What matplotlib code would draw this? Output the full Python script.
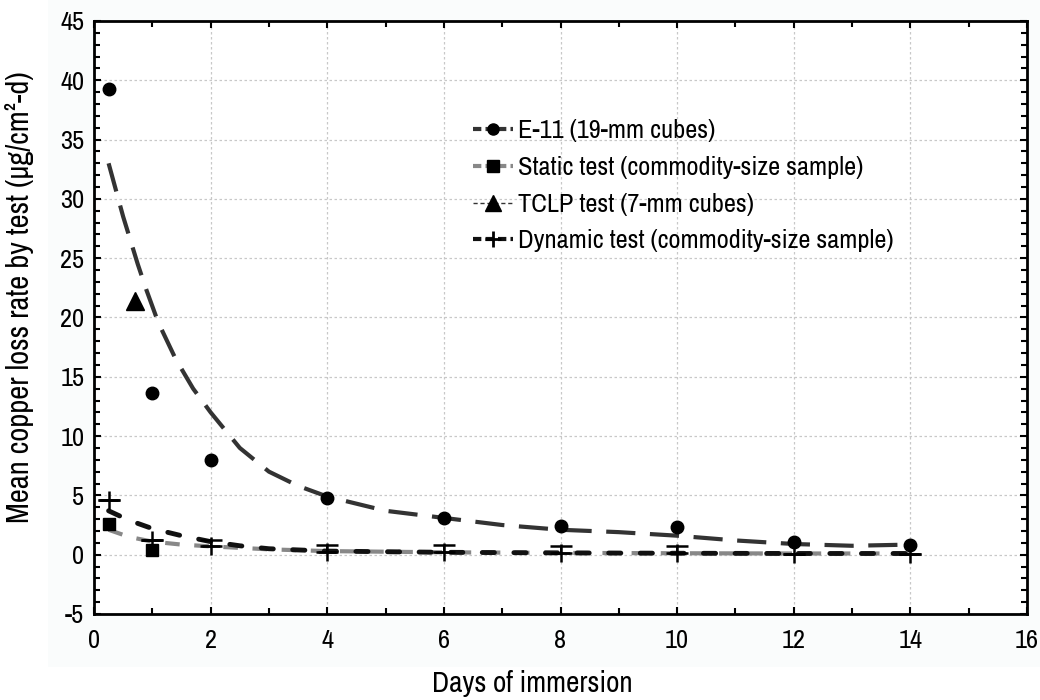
import numpy as np
import matplotlib.pyplot as plt
from matplotlib.ticker import MultipleLocator

plt.rcParams['font.family'] = ['Archivo Narrow', 'DejaVu Sans']
plt.rcParams['axes.unicode_minus'] = False

# measured mean loss rates
e11_days = [0.25, 1, 2, 4, 6, 8, 10, 12, 14]
e11_rate = [39.3, 13.6, 8.0, 4.8, 3.1, 2.4, 2.3, 1.1, 0.8]

static_days = [0.25, 1]
static_rate = [2.6, 0.4]

tclp_days = [0.7]
tclp_rate = [21.4]

dyn_days = [0.25, 1, 2, 4, 6, 8, 10, 12, 14]
dyn_rate = [4.6, 1.2, 0.7, 0.25, 0.25, 0.15, 0.15, 0.05, 0.05]
dyn_err = [0.0, 0.0, 0.5, 0.6, 0.6, 0.6, 0.6, 0.0, 0.0]

# smoothed fits
e11_fit_x = [0.25, 0.5, 0.75, 0.9, 1.1, 1.4, 1.7, 2.0, 2.5, 3.0, 3.5, 4.0, 5.0, 6.0, 7.0, 8.0, 9.0, 10.0, 11.0, 12.0, 13.0, 14.0]
e11_fit_y = [33.0, 28.5, 24.5, 22.3, 19.6, 16.5, 14.0, 12.0, 9.0, 7.0, 5.8, 4.9, 3.7, 3.1, 2.5, 2.1, 1.9, 1.6, 1.2, 0.9, 0.75, 0.85]

static_fit_x = [0.25, 0.6, 1.0, 1.5, 2.0, 3.0, 4.0, 6.0, 8.0, 10.0, 12.0, 14.0]
static_fit_y = [2.1, 1.5, 1.1, 0.85, 0.7, 0.45, 0.3, 0.2, 0.15, 0.12, 0.1, 0.1]

dyn_fit_x = [0.25, 0.6, 1.0, 1.5, 2.0, 2.5, 3.0, 4.0, 6.0, 8.0, 10.0, 12.0, 14.0]
dyn_fit_y = [3.7, 2.9, 2.2, 1.6, 1.1, 0.75, 0.5, 0.3, 0.2, 0.15, 0.12, 0.1, 0.1]

fig = plt.figure(figsize=(10.4, 7), dpi=100)
fig.patches.append(plt.Rectangle((0.046, 0.047), 0.954, 0.953, transform=fig.transFigure,
                                 facecolor='#fafcfc', edgecolor='none', zorder=-1))
ax = fig.add_axes([0.0904, 0.1229, 0.8971, 0.8471])

ax.plot(e11_fit_x, e11_fit_y, color='#333333', lw=3, dashes=(7, 3.5), zorder=2)
ax.plot(static_fit_x, static_fit_y, color='#888888', lw=3, dashes=(3.5, 3.5), zorder=2)
ax.plot(dyn_fit_x, dyn_fit_y, color='#111111', lw=3.5, dashes=(2.5, 4), zorder=3,
        dash_capstyle='round')

ax.plot(e11_days, e11_rate, 'o', color='black', ms=9, zorder=4)
ax.plot(static_days, static_rate, 's', color='black', ms=9, zorder=4)
ax.plot(tclp_days, tclp_rate, '^', color='black', ms=13, zorder=4)
ax.errorbar(dyn_days, dyn_rate, yerr=[np.zeros(len(dyn_err)), dyn_err], fmt='+', color='black',
            ms=13, mew=1.8, elinewidth=1.3, capsize=8, capthick=1.5, zorder=5)

# legend entries
h1, = ax.plot([], [], color='#333333', lw=3, dashes=(2, 1), marker='o', ms=8, mfc='black', mec='black')
h2, = ax.plot([], [], color='#888888', lw=3, dashes=(2, 1), marker='s', ms=9, mfc='black', mec='black')
h3, = ax.plot([], [], color='#333333', lw=1, dashes=(3, 2), marker='^', ms=12, mfc='black', mec='black')
h4, = ax.plot([], [], color='#111111', lw=3, dashes=(2, 1), marker='+', ms=12, mew=2, mec='black')
ax.legend([h1, h2, h3, h4],
          ['E-11 (19-mm cubes)', 'Static test (commodity-size sample)',
           'TCLP test (7-mm cubes)', 'Dynamic test (commodity-size sample)'],
          loc='upper left', bbox_to_anchor=(0.395, 0.852), frameon=False, fontsize=19,
          handlelength=1.5, handletextpad=0.2, labelspacing=0.52, borderaxespad=0)

ax.set_xlim(0, 16)
ax.set_ylim(-5, 45)
ax.xaxis.set_major_locator(MultipleLocator(2))
ax.xaxis.set_minor_locator(MultipleLocator(1))
ax.yaxis.set_major_locator(MultipleLocator(5))
ax.yaxis.set_minor_locator(MultipleLocator(1))
ax.tick_params(which='both', direction='in', top=True, right=True, width=1.5, labelsize=19)
ax.tick_params(axis='x', pad=11)
ax.tick_params(axis='y', pad=7)
ax.tick_params(which='major', length=5)
ax.tick_params(which='minor', length=4)
for s in ax.spines.values():
    s.set_linewidth(2)
ax.grid(True, which='major', color='#c8c8c8', ls=(0, (2, 2)), lw=0.9)
ax.set_axisbelow(True)

ax.set_xlabel('Days of immersion', fontsize=21)
ax.set_ylabel('Mean copper loss rate by test (µg/cm²-d)', fontsize=22)
ax.xaxis.set_label_coords(0.47, -0.094)
ax.yaxis.set_label_coords(-0.064, 0.535)

fig.savefig('out.png', dpi=100)
